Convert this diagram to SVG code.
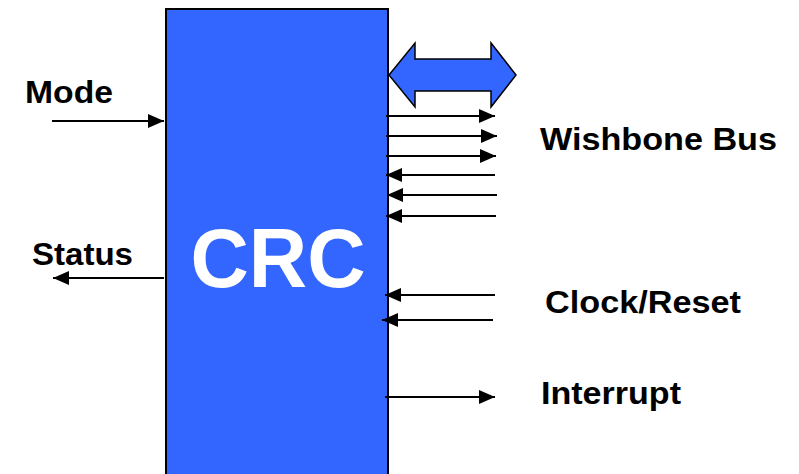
<svg xmlns="http://www.w3.org/2000/svg" width="799" height="474" viewBox="0 0 799 474">
  <style>
    .label { font-family: "Liberation Sans", Arial, sans-serif; font-weight: bold; font-size: 31px; fill: #000; }
    .title { font-family: "Liberation Sans", Arial, sans-serif; font-weight: bold; font-size: 84px; fill: #fff; }
    .wire { stroke: #000; stroke-width: 2.2; fill: none; marker-end: url(#head); }
  </style>
  <defs>
    <marker id="head" markerUnits="userSpaceOnUse" markerWidth="17" markerHeight="15" refX="16" refY="7" orient="auto">
      <path d="M0,0 L16,7 L0,14 z" fill="#000"/>
    </marker>
  </defs>
  <rect width="799" height="474" fill="#fff"/>

  <g id="crc">
    <rect x="166" y="9" width="222" height="480" fill="#3366ff" stroke="#000" stroke-width="2"/>
    <text class="title" x="278" y="287" text-anchor="middle" textLength="175" lengthAdjust="spacingAndGlyphs">CRC</text>
  </g>

  <g id="bus-arrow">
    <polygon points="389,75 415,43 415,59 491,59 491,43 516,75 491,107 491,91 415,91 415,107" fill="#3366ff" stroke="#000" stroke-width="1.5"/>
  </g>

  <g id="connectors">
    <line class="wire" x1="52" y1="121" x2="164" y2="121"/>
    <line class="wire" x1="164" y1="278" x2="53" y2="278"/>
    <line class="wire" x1="386" y1="116" x2="495" y2="116"/>
    <line class="wire" x1="386" y1="136" x2="497" y2="136"/>
    <line class="wire" x1="386" y1="156" x2="496" y2="156"/>
    <line class="wire" x1="495" y1="175" x2="386" y2="175"/>
    <line class="wire" x1="497" y1="195" x2="387" y2="195"/>
    <line class="wire" x1="496" y1="216" x2="386" y2="216"/>
    <line class="wire" x1="495" y1="295" x2="385" y2="295"/>
    <line class="wire" x1="493" y1="320" x2="382" y2="320"/>
    <line class="wire" x1="385" y1="397" x2="495" y2="397"/>
  </g>

  <g id="labels">
    <text class="label" x="25" y="103" textLength="88" lengthAdjust="spacingAndGlyphs">Mode</text>
    <text class="label" x="32" y="265" textLength="101" lengthAdjust="spacingAndGlyphs">Status</text>
    <text class="label" x="540" y="150" textLength="237" lengthAdjust="spacingAndGlyphs">Wishbone Bus</text>
    <text class="label" x="545" y="313" textLength="196" lengthAdjust="spacingAndGlyphs">Clock/Reset</text>
    <text class="label" x="541" y="404" textLength="140" lengthAdjust="spacingAndGlyphs">Interrupt</text>
  </g>
</svg>
